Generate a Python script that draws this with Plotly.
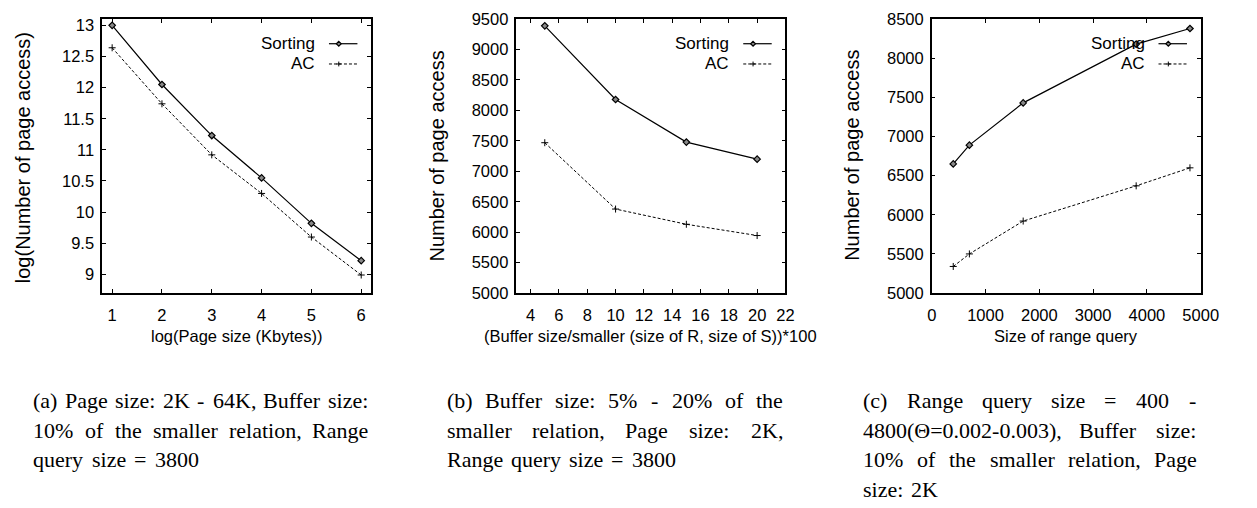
import plotly.graph_objects as go

W, H = 1257, 508

# ---------------- data ----------------
p1_x = [1, 2, 3, 4, 5, 6]
p1_sorting = [13.0, 12.05, 11.23, 10.55, 9.82, 9.22]
p1_ac = [12.64, 11.74, 10.92, 10.30, 9.60, 8.99]
p1_xticks = [1, 2, 3, 4, 5, 6]
p1_yticks = [9, 9.5, 10, 10.5, 11, 11.5, 12, 12.5, 13]
p1_yticklabels = ["9", "9.5", "10", "10.5", "11", "11.5", "12", "12.5", "13"]

p2_x = [5, 10, 15, 20]
p2_sorting = [9390, 8180, 7480, 7200]
p2_ac = [7470, 6380, 6130, 5945]
p2_xticks = [4, 6, 8, 10, 12, 14, 16, 18, 20, 22]
p2_yticks = [5000, 5500, 6000, 6500, 7000, 7500, 8000, 8500, 9000, 9500]

p3_x = [400, 700, 1700, 3800, 4800]
p3_sorting = [6650, 6890, 7430, 8180, 8380]
p3_ac = [5340, 5500, 5920, 6370, 6600]
p3_xticks = [0, 1000, 2000, 3000, 4000, 5000]
p3_yticks = [5000, 5500, 6000, 6500, 7000, 7500, 8000, 8500]

series_names = ["Sorting", "AC"]

x_titles = ["log(Page size (Kbytes))",
            "(Buffer size/smaller (size of R, size of S))*100",
            "Size of range query"]
y_titles = ["log(Number of page access)",
            "Number of page access",
            "Number of page access"]

captions = [
    ["(a) Page size: 2K - 64K, Buffer size:",
     "10% of the smaller relation, Range",
     "query size = 3800"],
    ["(b) Buffer size: 5% - 20% of the",
     "smaller relation, Page size: 2K,",
     "Range query size = 3800"],
    ["(c) Range query size = 400 -",
     "4800(\u0398=0.002-0.003), Buffer size:",
     "10% of the smaller relation, Page",
     "size: 2K"],
]

# ---------------- layout geometry (pixels) ----------------
panel_px = [(99, 373), (521, 795), (944, 1218)]
plot_top, plot_bot = 10.5, 294.5
ranges = [
    ([0.8, 6.2], [8.7, 13.1]),
    ([3, 22], [5000, 9500]),
    ([0, 5000], [5000, 8500]),
]
ytitle_px = [(18, 154), (440, 152), (862, 152)]
xtitle_y = 338.5
caption_cols = [(28, 368), (449, 791), (873, 1212)]
caption_lines_y = [404, 434.5, 465.5, 496]

SANS = "Liberation Sans, Arial, sans-serif"
SERIF = "Liberation Serif, Times New Roman, serif"
TICK_SIZE = 16.5
CAP_SIZE = 22


def px(x):
    return x / W


def py(y):
    return 1 - y / H


fig = go.Figure()

datasets = [
    (p1_x, p1_sorting, p1_ac, p1_xticks, [str(v) for v in p1_xticks], p1_yticks, p1_yticklabels),
    (p2_x, p2_sorting, p2_ac, p2_xticks, [str(v) for v in p2_xticks], p2_yticks, [str(v) for v in p2_yticks]),
    (p3_x, p3_sorting, p3_ac, p3_xticks, [str(v) for v in p3_xticks], p3_yticks, [str(v) for v in p3_yticks]),
]

annotations = []
shapes = []

for i, (xs, ys_sort, ys_ac, xt, xtl, yt, ytl) in enumerate(datasets):
    sfx = "" if i == 0 else str(i + 1)
    xa, ya = "x" + sfx, "y" + sfx
    fig.add_trace(go.Scatter(
        x=xs, y=ys_sort, name=series_names[0], mode="lines+markers",
        xaxis=xa, yaxis=ya, showlegend=False,
        line=dict(color="black", width=1.2),
        marker=dict(symbol="diamond", size=5, color="#888888",
                    line=dict(color="black", width=1.2)),
    ))
    fig.add_trace(go.Scatter(
        x=xs, y=ys_ac, name=series_names[1], mode="lines+markers",
        xaxis=xa, yaxis=ya, showlegend=False,
        line=dict(color="black", width=1, dash="3px,2px"),
        marker=dict(symbol="cross-thin", size=5, color="black",
                    line=dict(color="black", width=1)),
    ))
    x0, x1 = panel_px[i]
    axis_common = dict(
        showline=True, linecolor="black", linewidth=1.5, mirror="ticks",
        ticks="inside", ticklen=4, tickwidth=1, tickcolor="black",
        showgrid=False, zeroline=False,
        tickfont=dict(family=SANS, size=TICK_SIZE, color="black"),
        tickmode="array",
    )
    fig.update_layout(**{
        "xaxis" + sfx: dict(
            domain=[px(x0), px(x1)], range=ranges[i][0], anchor=ya,
            tickvals=xt, ticktext=xtl, ticklabelstandoff=6, **axis_common),
        "yaxis" + sfx: dict(
            domain=[py(plot_bot), py(plot_top)], range=ranges[i][1], anchor=xa,
            tickvals=yt, ticktext=ytl, ticklabelstandoff=3, **axis_common),
    })

    # axis titles
    annotations.append(dict(
        text=x_titles[i], x=px((x0 + x1) / 2), y=py(xtitle_y), xref="paper", yref="paper",
        xanchor="center", yanchor="middle", showarrow=False,
        font=dict(family=SANS, size=16.5, color="black")))
    tx, ty = ytitle_px[i]
    annotations.append(dict(
        text=y_titles[i], x=px(tx), y=py(ty), xref="paper", yref="paper",
        xanchor="center", yanchor="middle", showarrow=False, textangle=-90,
        font=dict(family=SANS, size=20, color="black")))

    # gnuplot-style key: text on the left, sample on the right
    R = x1
    for k, (name, ky) in enumerate(zip(series_names, (36, 57))):
        annotations.append(dict(
            text=name, x=px(R - 55), y=py(ky), xref="paper", yref="paper",
            xanchor="right", yanchor="middle", showarrow=False,
            font=dict(family=SANS, size=17, color="black")))
        shapes.append(dict(
            type="line", xref="paper", yref="paper",
            x0=px(R - 43), x1=px(R - 14), y0=py(ky), y1=py(ky),
            line=dict(color="black", width=1.2 if k == 0 else 1,
                      dash="solid" if k == 0 else "3px,2px")))
        cx = R - 33
        if k == 0:
            path = "M {},{} L {},{} L {},{} L {},{} Z".format(
                px(cx), py(ky - 2.5), px(cx + 2.5), py(ky), px(cx), py(ky + 2.5), px(cx - 2.5), py(ky))
            shapes.append(dict(type="path", xref="paper", yref="paper", path=path,
                               fillcolor="#888888", line=dict(color="black", width=1.2)))
        else:
            shapes.append(dict(type="line", xref="paper", yref="paper",
                               x0=px(cx - 2.5), x1=px(cx + 2.5), y0=py(ky), y1=py(ky),
                               line=dict(color="black", width=1)))
            shapes.append(dict(type="line", xref="paper", yref="paper",
                               x0=px(cx), x1=px(cx), y0=py(ky - 2.5), y1=py(ky + 2.5),
                               line=dict(color="black", width=1)))

# ---------------- justified captions ----------------
TW = {' ': 250, '!': 333, '%': 833, '(': 333, ')': 333, '*': 500, '+': 564, ',': 250,
      '-': 333, '.': 250, '/': 278, ':': 278, ';': 278, '=': 564, '\u0398': 722}
for d in "0123456789":
    TW[d] = 500
TW.update(dict(zip("ABCDEFGHIJKLMNOPQRSTUVWXYZ",
                   [722, 667, 667, 722, 611, 556, 722, 722, 333, 389, 722, 611, 889,
                    722, 722, 556, 722, 667, 556, 611, 722, 722, 944, 722, 722, 611])))
TW.update(dict(zip("abcdefghijklmnopqrstuvwxyz",
                   [444, 500, 444, 500, 444, 333, 500, 500, 278, 278, 500, 278, 778,
                    500, 500, 500, 500, 333, 389, 278, 500, 500, 722, 500, 500, 444])))


def word_w(w):
    return sum(TW.get(c, 500) for c in w) / 1000 * CAP_SIZE


for ci, lines in enumerate(captions):
    L, Rr = caption_cols[ci]
    for li, line in enumerate(lines):
        words = line.split(" ")
        widths = [word_w(w) for w in words]
        last = li == len(lines) - 1
        if last or len(words) == 1:
            gap = 9
        else:
            gap = (Rr - L - sum(widths)) / (len(words) - 1)
        xcur = L
        for w, ww in zip(words, widths):
            annotations.append(dict(
                text=w, x=px(xcur), y=py(caption_lines_y[li] + 2), xref="paper", yref="paper",
                xanchor="left", yanchor="middle", showarrow=False,
                font=dict(family=SERIF, size=CAP_SIZE, color="black"),
                borderpad=0))
            xcur += ww + gap

fig.update_layout(
    width=W, height=508,
    margin=dict(l=0, r=0, t=0, b=0),
    paper_bgcolor="white", plot_bgcolor="white",
    showlegend=False,
    annotations=annotations, shapes=shapes,
)

fig.write_html("out.html")
